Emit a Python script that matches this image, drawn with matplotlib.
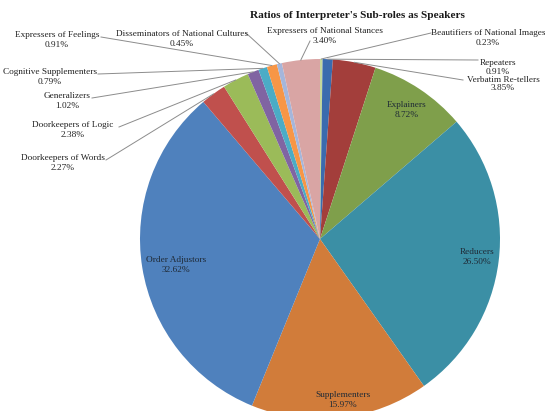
import numpy as np
import matplotlib.pyplot as plt

# sub-roles in drawing order (clockwise from 12 o'clock)
roles = [
    "Beautifiers of National Images", "Repeaters", "Verbatim Re-tellers",
    "Explainers", "Reducers", "Supplementers", "Order Adjustors",
    "Doorkeepers of Words", "Doorkeepers of Logic", "Generalizers",
    "Cognitive Supplementers", "Expressers of Feelings",
    "Disseminators of National Cultures", "Expressers of National Stances",
]
shares = [0.23, 0.91, 3.85, 8.72, 26.50, 15.97, 32.62,
          2.27, 2.38, 1.02, 0.79, 0.91, 0.45, 3.40]

colors = ["#C4D79B", "#3A6BAE", "#A33E3B", "#7F9F4B", "#3B8FA5", "#D17C3A",
          "#4F81BD", "#C0504D", "#9BBB59", "#8064A2", "#4BACC6", "#F79646",
          "#A5B6DB", "#D9A5A4"]

W, H = 545, 411
CX, CY, R = 320, 239, 180  # pie centre / radius in pixels (y from top)

# labels drawn inside their wedge: text centre
inside = {
    "Explainers": (407, 110),
    "Reducers": (477, 257),
    "Supplementers": (343, 400),
    "Order Adjustors": (176, 265),
}
# labels outside with a leader line: text centre, leader start, line spacing
outside = {
    "Beautifiers of National Images": ((488, 38), (431, 33), 1.2),
    "Repeaters": ((498, 67.5), (478, 60), 1.05),
    "Verbatim Re-tellers": ((503, 84), (463, 80), 1.15),
    "Doorkeepers of Words": ((63, 163), (106, 160), 1.2),
    "Doorkeepers of Logic": ((73, 130), (119, 127), 1.2),
    "Generalizers": ((67, 101), (92, 98), 1.2),
    "Cognitive Supplementers": ((50, 77), (98, 74), 1.2),
    "Expressers of Feelings": ((57, 40), (101, 37), 1.2),
    "Disseminators of National Cultures": ((182, 39), (246, 33), 1.2),
    "Expressers of National Stances": ((325, 36), (310, 41), 1.2),
}

plt.rcParams["font.family"] = ["Liberation Serif", "DejaVu Serif"]

fig = plt.figure(figsize=(W / 100, H / 100), dpi=100)
ax = fig.add_axes([0, 0, 1, 1])

ax.pie(shares, colors=colors, startangle=90, counterclock=False,
       center=(CX, H - CY), radius=R, frame=True,
       wedgeprops=dict(linewidth=0))
ax.set_xlim(0, W)
ax.set_ylim(0, H)
ax.set_aspect("equal")
ax.axis("off")

fig.text(357 / W, 1 - 15 / H, "Ratios of Interpreter's Sub-roles as Speakers",
         ha="center", va="center", fontsize=8.1, fontweight="bold",
         color="#1a1a1a")

total = sum(shares)
cum = np.cumsum([0] + shares[:-1])
for name, val, start in zip(roles, shares, cum):
    text = f"{name}\n{val:.2f}%"
    if name in inside:
        x, y = inside[name]
        ax.text(x, H - y, text, ha="center", va="center", fontsize=6.7,
                color="#1f2a36", linespacing=1.2)
        continue
    (x, y), (sx, sy), ls = outside[name]
    ax.text(x, H - y, text, ha="center", va="center", fontsize=6.7,
            color="#222222", linespacing=ls)
    mid = np.deg2rad(90 - 360 * (start + val / 2) / total)
    ex = CX + R * np.cos(mid)
    ey = H - CY + R * np.sin(mid)
    ax.plot([sx, ex], [H - sy, ey], color="#8c8c8c", linewidth=0.7)

fig.savefig("out.png", dpi=100)
